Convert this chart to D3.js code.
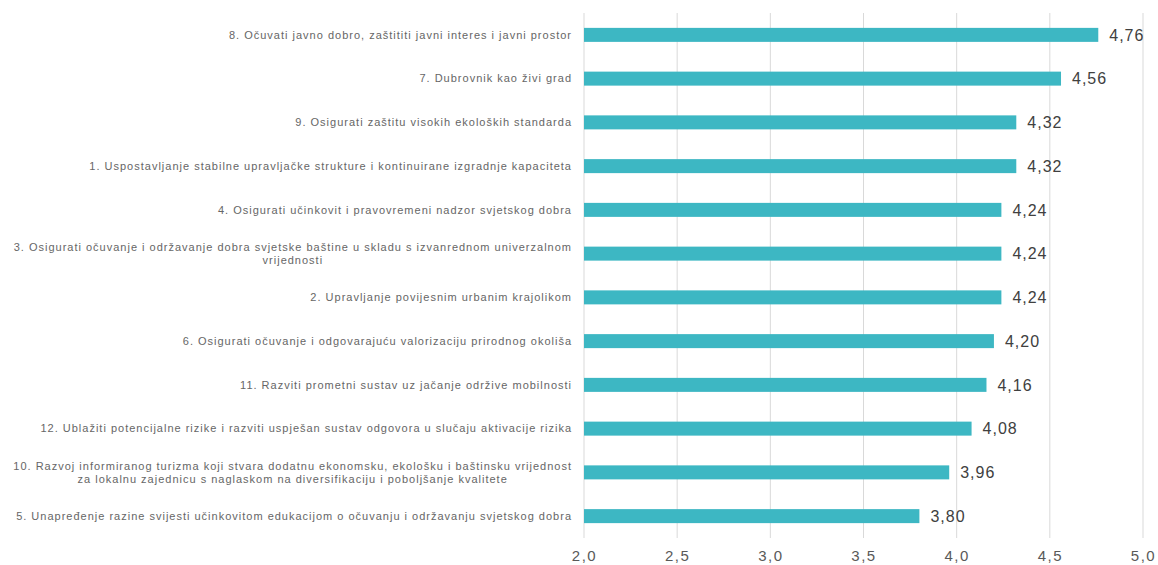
<!DOCTYPE html>
<html>
<head>
<meta charset="utf-8">
<script src="https://cdn.jsdelivr.net/npm/d3@7"></script>
<style>
  body{ margin:0; background:#fff; }
  svg{ display:block; font-family:"Liberation Sans", Arial, sans-serif; }
</style>
</head>
<body>
<svg id="chart" width="1158" height="565"></svg>
<script>
// categories, top to bottom (sorted by score)
const categories = [
  ['8. Očuvati javno dobro, zaštititi javni interes i javni prostor'],
  ['7. Dubrovnik kao živi grad'],
  ['9. Osigurati zaštitu visokih ekoloških standarda'],
  ['1. Uspostavljanje stabilne upravljačke strukture i kontinuirane izgradnje kapaciteta'],
  ['4. Osigurati učinkovit i pravovremeni nadzor svjetskog dobra'],
  ['3. Osigurati očuvanje i održavanje dobra svjetske baštine u skladu s izvanrednom univerzalnom', 'vrijednosti'],
  ['2. Upravljanje povijesnim urbanim krajolikom'],
  ['6. Osigurati očuvanje i odgovarajuću valorizaciju prirodnog okoliša'],
  ['11. Razviti prometni sustav uz jačanje održive mobilnosti'],
  ['12. Ublažiti potencijalne rizike i razviti uspješan sustav odgovora u slučaju aktivacije rizika'],
  ['10. Razvoj informiranog turizma koji stvara dodatnu ekonomsku, ekološku i baštinsku vrijednost', 'za lokalnu zajednicu s naglaskom na diversifikaciju i poboljšanje kvalitete'],
  ['5. Unapređenje razine svijesti učinkovitom edukacijom o očuvanju i održavanju svjetskog dobra']
]
const values = [4.76, 4.56, 4.32, 4.32, 4.24, 4.24, 4.24, 4.20, 4.16, 4.08, 3.96, 3.80]
const xTicks = [2.0, 2.5, 3.0, 3.5, 4.0, 4.5, 5.0]

const svg = d3.select('#chart')
const M = { left:584, right:1143, top:13, bottom:538 }
const LABEL_FS = 11, LABEL_LS = 1.0
const comma = (fmt) => (d => d3.format(fmt)(d).replace('.', ','))

const x = d3.scaleLinear().domain([2, 5]).range([M.left, M.right])
const y = d3.scaleBand().domain(d3.range(values.length)).range([M.top, M.bottom]).paddingInner(0.68).paddingOuter(0.34)

// gridlines
svg.append('g').selectAll('line').data(xTicks).join('line')
  .attr('x1', d => x(d)).attr('x2', d => x(d))
  .attr('y1', M.top).attr('y2', M.bottom)
  .attr('stroke', '#d9d9d9').attr('stroke-width', 1)

// x axis labels
const axis = svg.append('g').attr('transform', `translate(0,${M.bottom})`)
  .call(d3.axisBottom(x).tickValues(xTicks).tickSize(0).tickPadding(12).tickFormat(comma('.1f')))
axis.select('.domain').remove()
axis.selectAll('text').attr('font-size', 15).attr('fill', '#595959').attr('letter-spacing', 1.5)
  .attr('font-family', '"Liberation Sans", Arial, sans-serif')

// bars
svg.append('g').selectAll('rect').data(values).join('rect')
  .attr('x', x(2)).attr('y', (d, i) => y(i))
  .attr('width', d => x(d) - x(2)).attr('height', y.bandwidth())
  .attr('fill', '#3db7c3')

// value labels
svg.append('g').selectAll('text').data(values).join('text')
  .attr('x', d => x(d) + 11).attr('y', (d, i) => y(i) + y.bandwidth()/2)
  .attr('dy', '0.36em').attr('font-size', 16).attr('letter-spacing', 1).attr('fill', '#404040')
  .text(comma('.2f'))

// category labels (multi-line ones are centred under each other)
const labelRight = 572
const lg = svg.append('g')
categories.forEach((lines, i) => {
  const cy = y(i) + y.bandwidth()/2
  const lh = 13
  const t = lg.append('text').attr('font-size', LABEL_FS).attr('letter-spacing', LABEL_LS).attr('fill', '#666')
  if(lines.length === 1){
    t.attr('x', labelRight).attr('y', cy).attr('dy', '0.35em').attr('text-anchor', 'end').text(lines[0])
  } else {
    // measure the first line to find centre
    t.attr('text-anchor', 'middle')
    const probe = lg.append('text').attr('font-size', LABEL_FS).attr('letter-spacing', LABEL_LS).text(lines[0])
    const w = probe.node().getComputedTextLength()
    probe.remove()
    const cx = labelRight - w/2
    lines.forEach((ln, k) => {
      t.append('tspan').attr('x', cx).attr('y', cy + (k - (lines.length-1)/2) * lh).attr('dy', '0.35em').text(ln)
    })
  }
})
</script>
</body>
</html>
